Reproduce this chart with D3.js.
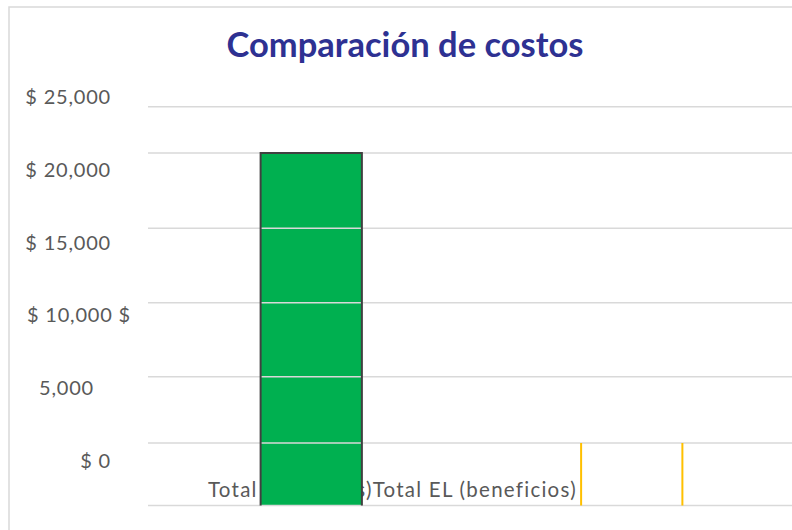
<!DOCTYPE html>
<html>
<head>
<meta charset="utf-8">
<script src="https://cdn.jsdelivr.net/npm/d3@7"></script>
<style>
  body { margin: 0; background: #fff; }
  svg text { font-family: Lato, "Open Sans", sans-serif; }
</style>
</head>
<body>
<svg></svg>
<script>
// data
var categories = ["Total EL (costos)", "Total EL (beneficios)"]
var values = [20000, 3550]
var barColors = ["#00B050", "#FFC000"]
var outlineColors = ["#404040", "#FFC000"]
var gridValues = [0, 3550, 7300, 11500, 15730, 20000, 22620]
var tickValues = [0, 5000, 10000, 15000, 20000, 25000]
var tickLabels = ["$ 0", "5,000", "$ 10,000 $", "$ 15,000", "$ 20,000", "$ 25,000"]
var chartTitle = "Comparación de costos"

var dimensions = {
    width: 792,
    height: 530,
    margin: { top: 153, bottom: 24.5, left: 148, right: 0 }
}

var svg = d3.select("svg")
            .attr("width", dimensions.width)
            .attr("height", dimensions.height)

// chart frame (runs off the right and bottom edges)
svg.append("rect")
   .attr("x", 9).attr("y", 7)
   .attr("width", 820).attr("height", 560)
   .attr("fill", "white")
   .attr("stroke", "#d9d9d9")
   .attr("stroke-width", 1.5)

var baseY = dimensions.height - dimensions.margin.bottom

var y = d3.scaleLinear()
          .domain([0, 20000])
          .range([baseY, dimensions.margin.top])

// the tick labels sit on their own, slightly shifted spacing
var yLabel = d3.scaleLinear()
               .domain([0, 25000])
               .range([468, 104])

var x = d3.scaleBand()
          .domain(categories)
          .range([151, dimensions.width])
          .padding(0)

var barW = x.bandwidth() * 0.316

// title
svg.append("text")
   .attr("x", 405).attr("y", 57)
   .attr("text-anchor", "middle")
   .attr("fill", "#2E3192")
   .attr("font-weight", "bold")
   .attr("font-size", 34.5)
   .text(chartTitle)

// y tick labels
var ylab = svg.append("g")
              .attr("fill", "#595959")
              .attr("font-size", 20)
              .attr("letter-spacing", 0.8)
ylab.selectAll("text")
    .data(tickValues)
    .enter()
    .append("text")
    .attr("y", d => yLabel(d))
    .attr("x", (d, i) => tickLabels[i] == "5,000" ? 66.5 : (tickLabels[i].endsWith(" $") ? 27 : 111))
    .attr("text-anchor", (d, i) => tickLabels[i] == "5,000" ? "middle" : (tickLabels[i].endsWith(" $") ? "start" : "end"))
    .text((d, i) => tickLabels[i])

// category labels, run together as in the picture
var catText = svg.append("text")
                 .attr("x", 208)
                 .attr("y", 497)
                 .attr("fill", "#595959")
                 .attr("font-size", 20.5)
                 .attr("letter-spacing", 1.25)
catText.selectAll("tspan")
       .data(categories)
       .enter()
       .append("tspan")
       .text(d => d)

// bar fills
svg.append("g")
   .selectAll("rect")
   .data(values)
   .enter()
   .append("rect")
   .attr("x", (d, i) => x(categories[i]) + x.bandwidth() / 2 - barW / 2)
   .attr("y", d => y(d))
   .attr("width", barW)
   .attr("height", d => baseY - y(d))
   .attr("fill", (d, i) => i == 0 ? barColors[i] : "none")

// gridlines over the fills
svg.append("g")
   .selectAll("line")
   .data(gridValues)
   .enter()
   .append("line")
   .attr("x1", dimensions.margin.left)
   .attr("x2", dimensions.width)
   .attr("y1", d => y(d))
   .attr("y2", d => y(d))
   .attr("stroke", "#d9d9d9")
   .attr("stroke-width", 1.5)

// bar outlines: green keeps top + sides, yellow only its sides
svg.append("g")
   .selectAll("rect")
   .data(values)
   .enter()
   .append("rect")
   .attr("x", (d, i) => x(categories[i]) + x.bandwidth() / 2 - barW / 2)
   .attr("y", d => y(d))
   .attr("width", barW)
   .attr("height", d => baseY - y(d))
   .attr("fill", "none")
   .attr("stroke", (d, i) => outlineColors[i])
   .attr("stroke-width", 2)
   .attr("stroke-dasharray", function(d, i) {
       var w = barW, h = baseY - y(d)
       return i == 0 ? [w + h, w, h].join(",") : [0, w, h, w, h].join(",")
   })
</script>
</body>
</html>
